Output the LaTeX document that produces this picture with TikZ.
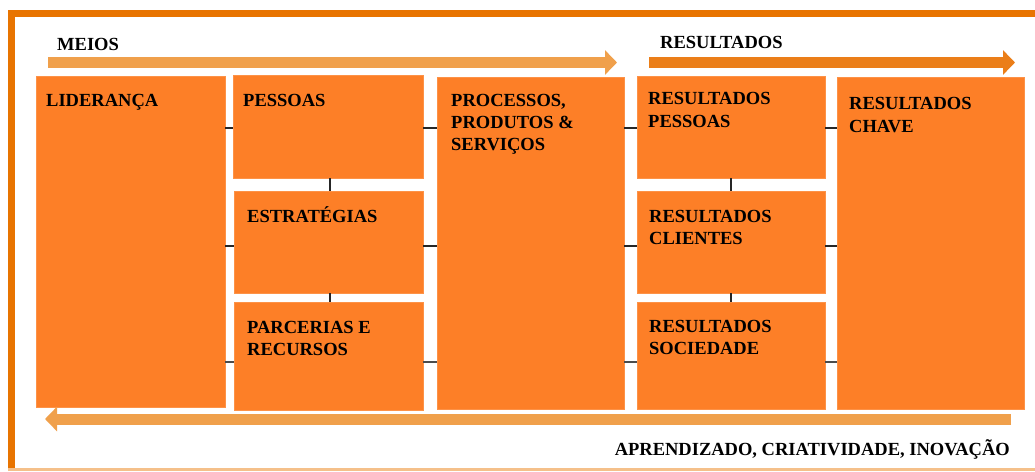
\documentclass[tikz,border=0pt]{standalone}
\usepackage{fontspec}
\setmainfont{Liberation Serif}
\usetikzlibrary{arrows.meta,fit}
\definecolor{frameor}{HTML}{E87400}
\definecolor{boxor}{HTML}{FD7F27}
\definecolor{lightor}{HTML}{F0A04B}
\definecolor{darkarr}{HTML}{EB7E18}
\definecolor{bottomln}{HTML}{F5C08A}
\begin{document}
\begin{tikzpicture}[x=1pt,y=-1pt,
  stepbox/.style={fill=boxor, draw=boxor!85!white, line width=0.8pt, inner sep=0pt, outer sep=0pt},
  lbl/.style={anchor=north west, inner sep=0pt, align=left, font=\fontsize{18.5}{22.5}\selectfont\bfseries},
  conn/.style={draw=black!85, line width=2pt},
  bigarrow/.style={line width=11pt, -{Triangle[width=24pt,length=12pt]}}
]
\useasboundingbox (0,0) rectangle (1035,471);
\fill[white] (0,0) rectangle (1035,471);
% frame
\draw[frameor, line width=7pt] (11.5,471) -- (11.5,13.5) -- (1035,13.5);
\draw[bottomln, line width=3pt] (8,469.5) -- (1035,469.5);

% boxes
\node[stepbox, fit={(36,76) (225,407)}] (lid) {};
\node[stepbox, fit={(233,75) (423,178)}] (pes) {};
\node[stepbox, fit={(234,191) (423,293)}] (est) {};
\node[stepbox, fit={(234,302) (423,410)}] (par) {};
\node[stepbox, fit={(437,77) (624,409)}] (pro) {};
\node[stepbox, fit={(637,76) (825,178)}] (rpe) {};
\node[stepbox, fit={(637,191) (825,293)}] (rcl) {};
\node[stepbox, fit={(637,302) (825,409)}] (rso) {};
\node[stepbox, fit={(837,77) (1024,409)}] (rch) {};

% labels
\node[lbl] (tlid) at (46,89) {\rule{0pt}{17pt}LIDERANÇA};
\node[lbl] (tpes) at (243,89) {\rule{0pt}{17pt}PESSOAS};
\node[lbl, font=\fontsize{18.5}{22}\selectfont\bfseries] (tpro) at (451,89) {\rule{0pt}{17pt}PROCESSOS,\\PRODUTOS \&\\SERVIÇOS};
\node[lbl, font=\fontsize{18.5}{23}\selectfont\bfseries] (trpe) at (648,87) {\rule{0pt}{17pt}RESULTADOS\\PESSOAS};
\node[lbl, font=\fontsize{18.5}{23}\selectfont\bfseries] (trch) at (849,92) {\rule{0pt}{17pt}RESULTADOS\\CHAVE};
\node[lbl] (test) at (247,205) {\rule{0pt}{17pt}ESTRATÉGIAS};
\node[lbl] (tpar) at (247,316) {\rule{0pt}{17pt}PARCERIAS E\\RECURSOS};
\node[lbl] (trcl) at (649,205) {\rule{0pt}{17pt}RESULTADOS\\CLIENTES};
\node[lbl] (trso) at (649,315) {\rule{0pt}{17pt}RESULTADOS\\SOCIEDADE};

% connectors
\draw[conn] (lid.east |- 0,128) -- (pes.west |- 0,128);
\draw[conn] (pes.east |- 0,128) -- (pro.west |- 0,128);
\draw[conn] (pro.east |- 0,128) -- (rpe.west |- 0,128);
\draw[conn] (rpe.east |- 0,128) -- (rch.west |- 0,128);
\draw[conn] (lid.east |- 0,246) -- (est.west |- 0,246);
\draw[conn] (est.east |- 0,246) -- (pro.west |- 0,246);
\draw[conn] (pro.east |- 0,246) -- (rcl.west |- 0,246);
\draw[conn] (rcl.east |- 0,246) -- (rch.west |- 0,246);
\draw[conn, draw=black!70] (lid.east |- 0,362) -- (par.west |- 0,362);
\draw[conn, draw=black!70] (par.east |- 0,362) -- (pro.west |- 0,362);
\draw[conn, draw=black!70] (pro.east |- 0,362) -- (rso.west |- 0,362);
\draw[conn, draw=black!70] (rso.east |- 0,362) -- (rch.west |- 0,362);
\draw[conn] (pes.south -| 330,0) -- (est.north -| 330,0);
\draw[conn] (est.south -| 330,0) -- (par.north -| 330,0);
\draw[conn] (rpe.south -| 731,0) -- (rcl.north -| 731,0);
\draw[conn] (rcl.south -| 731,0) -- (rso.north -| 731,0);

% big arrows
\coordinate (m0) at (48,62.5);
\coordinate (m1) at (617,62.5);
\coordinate (r0) at (649,62.5);
\coordinate (r1) at (1015,62.5);
\coordinate (b0) at (1011,419);
\coordinate (b1) at (45,419);
\draw[bigarrow, lightor] (m0) -- (m1);
\draw[bigarrow, darkarr] (r0) -- (r1);
\draw[bigarrow, lightor] (b0) -- (b1);

% arrow labels
\node[lbl] (tmeios) at (57,33) {\rule{0pt}{17pt}MEIOS};
\node[lbl] (tres) at (660,31) {\rule{0pt}{17pt}RESULTADOS};
\node[lbl, anchor=north east] (tapr) at (1010,438) {\rule{0pt}{17pt}APRENDIZADO, CRIATIVIDADE, INOVAÇÃO};
\end{tikzpicture}
\end{document}
